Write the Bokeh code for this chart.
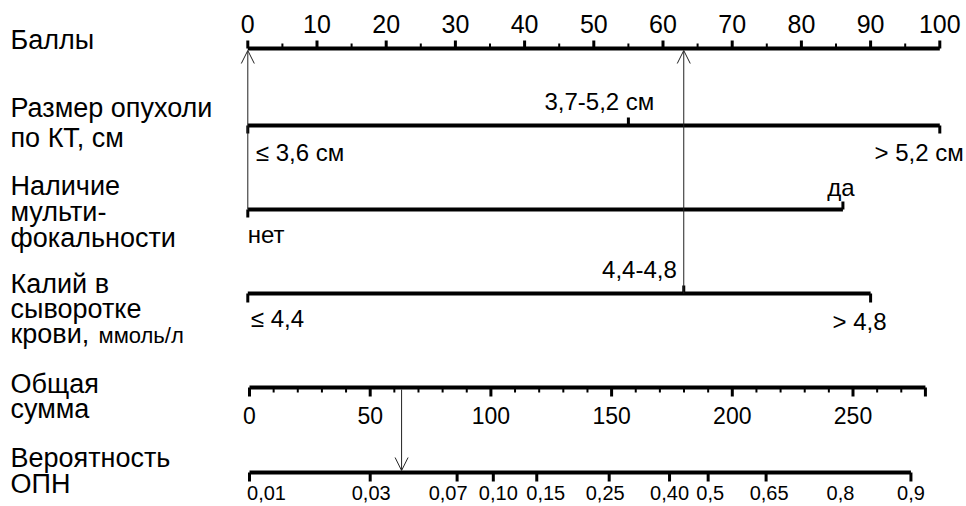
from bokeh.plotting import figure
from bokeh.models import Range1d, Arrow, OpenHead
from bokeh.core.properties import value
from bokeh.embed import file_html
from bokeh.resources import INLINE

# ---------------- data ----------------
points_ticks = [0, 10, 20, 30, 40, 50, 60, 70, 80, 90, 100]
points_minor = [5, 15, 25, 35, 45, 55, 65, 75, 85, 95]

tumor_labels = ["≤ 3,6 см", "3,7-5,2 см", "> 5,2 см"]
tumor_points = [0, 55, 100]

multi_labels = ["нет", "да"]
multi_points = [0, 86]

kalium_labels = ["≤ 4,4", "4,4-4,8", "> 4,8"]
kalium_points = [0, 63, 90]

total_ticks = [0, 50, 100, 150, 200, 250]
total_minor = [10, 20, 30, 40, 60, 70, 80, 90, 110, 120, 130, 140, 160, 170, 180, 190,
               210, 220, 230, 240, 260, 270]
total_max = 280

prob_labels = ["0,01", "0,03", "0,07", "0,10", "0,15", "0,25", "0,40", "0,5", "0,65", "0,8", "0,9"]
prob_total = [0, 50, 86, 101, 119, 149, 174, 190, 214, 244, 274]

# example patient: tumor <=3,6 (0), no multifocality (0), kalium 4,4-4,8 (63)
patient_tumor = 0
patient_multi = 0
patient_kalium = 63
patient_total = patient_tumor + patient_multi + patient_kalium

row_titles = [
    ("Баллы", 49), ("Размер опухоли", 117), ("по КТ, см", 147),
    ("Наличие", 195), ("мульти-", 221), ("фокальности", 247),
    ("Калий в", 293), ("сыворотке", 318), ("крови,", 343),
    ("Общая", 393), ("сумма", 418), ("Вероятность", 467), ("ОПН", 493),
]

# ---------------- layout ----------------
W, H = 966, 506
PX_PT = 6.92          # px per point
PX_TOT = 2.414        # px per total unit
pts_start = -247.3 / PX_PT
tot_start = -249.0 / PX_TOT

Y_PTS, Y_TUM, Y_MUL, Y_KAL, Y_TOT, Y_PRB = 48, 125, 209, 293, 387, 472
FONT = value("Liberation Sans")
INK = "#000000"
prob_label_dx = [17, 1, -9, 5, 9, -4, 0, 2, 3, 2, 0]

p = figure(width=W, height=H, output_backend="svg", toolbar_location=None,
           x_range=Range1d(pts_start, pts_start + W / PX_PT),
           y_range=Range1d(H, 0),
           min_border=0, min_border_left=0, min_border_right=0,
           min_border_top=0, min_border_bottom=0)
p.extra_x_ranges = {"tot": Range1d(tot_start, tot_start + W / PX_TOT)}
p.axis.visible = False
p.grid.visible = False
p.outline_line_color = None
p.background_fill_color = "white"
p.border_fill_color = "white"

def hline(x0, x1, y, rng="default"):
    p.segment(x0=[x0], x1=[x1], y0=[y], y1=[y], line_width=4, line_color=INK,
              line_cap="butt", x_range_name=rng)

def ticks(xs, y0, y1, rng="default", lw=3):
    p.segment(x0=xs, x1=xs, y0=[y0] * len(xs), y1=[y1] * len(xs),
              line_width=lw, line_color=INK, line_cap="butt", x_range_name=rng)

def label(xs, ys, texts, size, align="center", xoff=0, rng="default"):
    # baseline correction for the svg text placement
    dy = -0.36 * size
    p.text(x=xs, y=[y + dy for y in ys], text=texts, text_font=FONT,
           text_font_size=value(f"{size}px"),
           text_align=align, text_baseline="alphabetic", text_color=INK,
           x_offset=xoff, x_range_name=rng)

# Points axis
hline(points_ticks[0], points_ticks[-1], Y_PTS)
ticks(points_ticks, Y_PTS, Y_PTS - 8)
ticks(points_minor, Y_PTS, Y_PTS - 5, lw=2)
label(points_ticks, [32] * len(points_ticks), [str(t) for t in points_ticks], 25)

# Tumor size
hline(min(tumor_points), max(tumor_points), Y_TUM)
ticks([tumor_points[0], tumor_points[2]], Y_TUM, Y_TUM + 8)
ticks([tumor_points[1]], Y_TUM, Y_TUM - 8)
label([tumor_points[0]], [161], [tumor_labels[0]], 24, "left", 8)
label([tumor_points[1]], [110], [tumor_labels[1]], 24, "center", -29)
label([tumor_points[2]], [161], [tumor_labels[2]], 24, "right", 24)

# Multifocality
hline(min(multi_points), max(multi_points), Y_MUL)
ticks([multi_points[0]], Y_MUL, Y_MUL + 8)
ticks([multi_points[1]], Y_MUL, Y_MUL - 8)
label([multi_points[0]], [243], [multi_labels[0]], 24, "left", 0)
label([multi_points[1]], [196], [multi_labels[1]], 24, "center", -2)

# Kalium
hline(min(kalium_points), max(kalium_points), Y_KAL)
ticks([kalium_points[0], kalium_points[2]], Y_KAL, Y_KAL + 9)
ticks([kalium_points[1]], Y_KAL, Y_KAL - 8)
label([kalium_points[0]], [327], [kalium_labels[0]], 24, "left", 3)
label([kalium_points[1]], [278], [kalium_labels[1]], 24, "right", -7)
label([kalium_points[2]], [330], [kalium_labels[2]], 24, "right", 16)

# Total points axis
hline(0, total_max, Y_TOT, "tot")
ticks(total_ticks + [total_max], Y_TOT, Y_TOT + 9, "tot")
ticks(total_minor, Y_TOT, Y_TOT + 5, "tot", lw=2)
label(total_ticks, [423] * len(total_ticks), [str(t) for t in total_ticks], 23, rng="tot")

# Probability axis
hline(prob_total[0], prob_total[-1], Y_PRB, "tot")
ticks([t for t, l in zip(prob_total, prob_labels) if l != "0,8"], Y_PRB, Y_PRB + 9, "tot")
for t, l, dx in zip(prob_total, prob_labels, prob_label_dx):
    label([t], [500], [l], 20, "center", dx, rng="tot")

# Row titles
label([pts_start] * len(row_titles), [y for _, y in row_titles],
      [t for t, _ in row_titles], 27, "left", 10)
label([pts_start], [343], ["ммоль/л"], 22, "left", 98)

# Reading arrows
head = dict(size=13, line_width=1, line_color="#222222")
p.add_layout(Arrow(end=OpenHead(**head), x_start=patient_multi, y_start=Y_MUL,
                   x_end=patient_multi, y_end=Y_PTS + 2, line_width=1, line_color="#222222"))
p.add_layout(Arrow(end=OpenHead(**head), x_start=patient_kalium, y_start=Y_KAL,
                   x_end=patient_kalium, y_end=Y_PTS + 2, line_width=1, line_color="#222222"))
p.add_layout(Arrow(end=OpenHead(**head), x_start=patient_total, y_start=Y_TOT + 2,
                   x_end=patient_total, y_end=Y_PRB - 2, line_width=1, line_color="#222222",
                   x_range_name="tot"))

open("out.html", "w").write(file_html(p, INLINE))
